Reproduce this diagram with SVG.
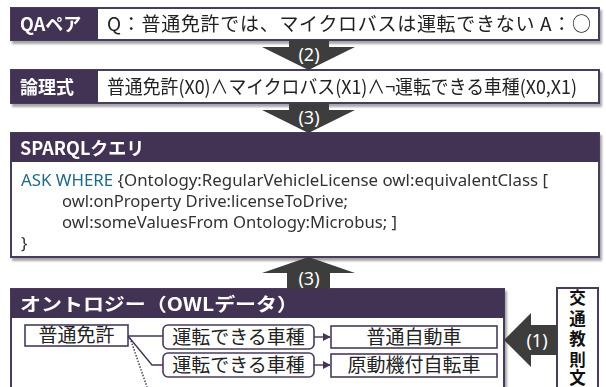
<svg xmlns="http://www.w3.org/2000/svg" width="606" height="387" viewBox="0 0 606 387">
<defs>
<filter id="sh" x="-5%" y="-10%" width="110%" height="130%">
<feDropShadow dx="2" dy="3" stdDeviation="1.2" flood-color="#000" flood-opacity="0.35"/>
</filter>
<marker id="ah" viewBox="0 0 10 10" refX="9" refY="5" markerWidth="8" markerHeight="8" markerUnits="userSpaceOnUse" orient="auto">
<path d="M0,0 L10,5 L0,10 z" fill="#45354f"/>
</marker>
</defs>
<style>
.hdr{fill:#433352}
.box{fill:#fff;stroke:#4a3a5c;stroke-width:2}
.ht{fill:#fff;font-family:"Noto Sans CJK JP","Noto Sans",sans-serif;font-weight:bold;font-size:18px}
.bt{fill:#222;font-family:"Noto Sans CJK JP","Noto Sans",sans-serif;font-size:19px}
.sq{fill:#333;font-family:"Noto Sans","Noto Sans CJK JP",sans-serif;font-size:17px}
.kw{fill:#1f6a86}
.arr{fill:#3d3d3d}
.at{fill:#fff;font-family:"Noto Sans","Noto Sans CJK JP",sans-serif;font-size:18px;text-anchor:middle}
.nd{fill:#fff;stroke:#4a3a5c;stroke-width:1.6}
.nt{fill:#222;font-family:"Noto Sans CJK JP",sans-serif;font-size:19px;text-anchor:middle}
.ln{fill:none;stroke:#45354f;stroke-width:1.4}
.vt{fill:#111;font-family:"Noto Sans CJK JP",sans-serif;font-weight:bold;font-size:16.5px;text-anchor:middle}
</style>

<g id="qa" filter="url(#sh)">
<rect class="box" x="11" y="8" width="588" height="32"/>
<rect class="hdr" x="11" y="8" width="87" height="32"/>
<text class="ht" x="20" y="31">QAペア</text>
<text class="bt" x="107" y="31" textLength="484" lengthAdjust="spacing">Q：普通免許では、マイクロバスは運転できない A：○</text>
</g>

<g id="logic" filter="url(#sh)">
<rect class="box" x="11" y="70" width="588" height="33"/>
<rect class="hdr" x="11" y="70" width="87" height="33"/>
<text class="ht" x="20" y="94" font-size="20">論理式</text>
<text class="bt" x="107" y="94" textLength="470" lengthAdjust="spacingAndGlyphs">普通免許(X0)∧マイクロバス(X1)∧¬運転できる車種(X0,X1)</text>
</g>

<g id="sparql" filter="url(#sh)">
<rect class="box" x="11" y="133" width="588" height="124"/>
<rect class="hdr" x="11" y="133" width="588" height="29"/>
<text class="ht" x="20" y="155">SPARQLクエリ</text>
<text class="sq" x="21" y="186" textLength="527" lengthAdjust="spacingAndGlyphs"><tspan class="kw">ASK WHERE</tspan> {Ontology:RegularVehicleLicense owl:equivalentClass [</text>
<text class="sq" x="62" y="207" textLength="286" lengthAdjust="spacingAndGlyphs">owl:onProperty Drive:licenseToDrive;</text>
<text class="sq" x="62" y="228" textLength="335" lengthAdjust="spacingAndGlyphs">owl:someValuesFrom Ontology:Microbus; ]</text>
<text class="sq" x="21" y="249">}</text>
</g>

<g id="ontology" filter="url(#sh)">
<rect class="box" x="11" y="289" width="493" height="102"/>
<rect class="hdr" x="11" y="289" width="493" height="29"/>
<text class="ht" x="20" y="311" textLength="278" lengthAdjust="spacingAndGlyphs">オントロジー（OWLデータ）</text>
</g>

<g id="n-license">
<rect class="nd" x="25" y="325" width="103" height="21"/>
<text class="nt" x="76.5" y="342">普通免許</text>
</g>
<g id="n-drive1">
<rect class="nd" x="163" y="325" width="151" height="24" rx="5"/>
<text class="nt" x="238.5" y="344">運転できる車種</text>
</g>
<g id="n-car">
<rect class="nd" x="331" y="326" width="166" height="22"/>
<text class="nt" x="414" y="344">普通自動車</text>
</g>
<g id="n-drive2">
<rect class="nd" x="163" y="353" width="151" height="24" rx="5"/>
<text class="nt" x="238.5" y="372">運転できる車種</text>
</g>
<g id="n-moped">
<rect class="nd" x="331" y="354" width="166" height="23"/>
<text class="nt" x="414" y="372">原動機付自転車</text>
</g>

<g id="rules">
<rect class="box" x="557" y="288" width="41" height="101"/>
<text class="vt"><tspan x="577.5" y="304">交</tspan><tspan x="577.5" y="324.5">通</tspan><tspan x="577.5" y="345">教</tspan><tspan x="577.5" y="365.5">則</tspan><tspan x="577.5" y="384">文</tspan></text>
</g>

<g id="connectors">
<polygon class="arr" points="289,40 329,40 329,47 355,47 308.5,70 262,47 289,47"/>
<text class="at" x="309" y="61">(2)</text>
<polygon class="arr" points="289,103 329,103 329,110 355,110 308.5,133 262,110 289,110"/>
<text class="at" x="309" y="124">(3)</text>
<polygon class="arr" points="308.5,257 355,273 330,273 330,289 287,289 287,273 262,273"/>
<text class="at" x="309" y="285">(3)</text>
<polygon class="arr" points="504,340 531,313 531,325 557,325 557,355 531,355 531,367"/>
<text class="at" x="537" y="347">(1)</text>
<path class="ln" d="M128,336 H163"/>
<path class="ln" d="M128,336 L152,365 H163"/>
<path class="ln" d="M130,338 L147,387" stroke-dasharray="1.5,1.5"/>
<path class="ln" d="M314,337 H330" marker-end="url(#ah)"/>
<path class="ln" d="M314,365 H330" marker-end="url(#ah)"/>
</g>
</svg>
